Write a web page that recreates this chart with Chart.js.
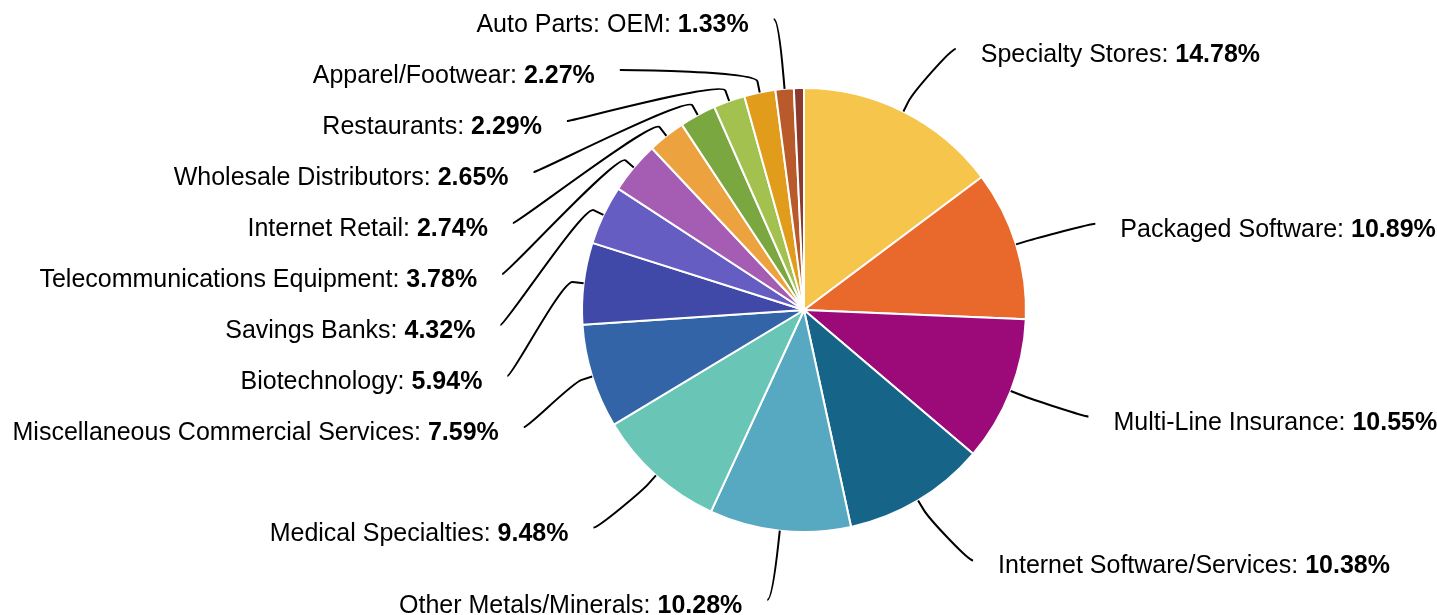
<!DOCTYPE html>
<html>
<head>
<meta charset="utf-8">
<script src="https://cdn.jsdelivr.net/npm/chart.js@4.4.0/dist/chart.umd.min.js"></script>
<style>
  html, body { margin: 0; padding: 0; background: #ffffff; }
  #wrap { width: 1437px; height: 615px; position: relative; }
</style>
</head>
<body>
<div id="wrap"><canvas id="c"></canvas></div>
<script>
// ---- data ----
const categories = [
  "Specialty Stores",
  "Packaged Software",
  "Multi-Line Insurance",
  "Internet Software/Services",
  "Other Metals/Minerals",
  "Medical Specialties",
  "Miscellaneous Commercial Services",
  "Biotechnology",
  "Savings Banks",
  "Telecommunications Equipment",
  "Internet Retail",
  "Wholesale Distributors",
  "Restaurants",
  "Apparel/Footwear",
  "Auto Parts: OEM",
  "Other"
];
const values = [14.78, 10.89, 10.55, 10.38, 10.28, 9.48, 7.59, 5.94, 4.32, 3.78, 2.74, 2.65, 2.29, 2.27, 1.33, 0.73];
const sliceColors = [
  "#F5C54C", "#E8692B", "#9C0A7A", "#166488", "#57A8C1", "#69C6B6",
  "#3464A8", "#4149A8", "#665DC3", "#A45DB3", "#EBA23F", "#7AA73F",
  "#A3C14F", "#E09C1A", "#B95A2B", "#8C3A2C"
];
const labelMinValue = 1; // slices below this carry no label

const FONT = '"Liberation Sans", Arial, sans-serif';

const labelPlugin = {
  id: 'pieLabels',
  afterDatasetsDraw(chart) {
    const meta = chart.getDatasetMeta(0);
    const arcs = meta.data;
    if (!arcs.length) return;
    const ctx = chart.ctx;
    const cx = arcs[0].x, cy = arcs[0].y, r = arcs[0].outerRadius;
    const Rn = r + 70;            // natural label radius (vertical placement)
    const Rx = r + 78;            // label radius used for horizontal placement
    const top = cy - r - 70;      // label band limits
    const bottom = cy + r + 68;
    const h = 51;                 // label slot height

    const items = [];
    arcs.forEach((arc, i) => {
      if (values[i] < labelMinValue) return;
      const a = (arc.startAngle + arc.endAngle) / 2;
      items.push({ i, a, left: Math.cos(a) < 0, natY: cy + Math.sin(a) * Rn, natYx: cy + Math.sin(a) * Rx });
    });

    [true, false].forEach(side => {
      const list = items.filter(o => o.left === side).sort((p, q) => p.natY - q.natY);
      list.forEach(o => { o.y = Math.min(Math.max(o.natY, top), bottom); });
      for (let k = 1; k < list.length; k++) list[k].y = Math.max(list[k].y, list[k - 1].y + h);
      for (let k = list.length - 1; k >= 0; k--) {
        const lim = k === list.length - 1 ? bottom : list[k + 1].y - h;
        list[k].y = Math.min(list[k].y, lim);
      }
      for (let k = 0; k < list.length; k++) {
        const lim = k === 0 ? top : list[k - 1].y + h;
        list[k].y = Math.max(list[k].y, lim);
      }
    });

    ctx.save();
    items.forEach(o => {
      const yForX = (o.y < top + 2 || o.y > bottom - 2) ? o.natYx : o.y;
      let dy = yForX - cy;
      dy = Math.max(-Rx, Math.min(Rx, dy));
      const dx = Math.sqrt(Rx * Rx - dy * dy) + 4;
      const ax = o.left ? cx - dx : cx + dx;
      const ay = o.y;
      const tx = cx + Math.cos(o.a) * r, ty = cy + Math.sin(o.a) * r;
      const bx = cx + Math.cos(o.a) * (r + 11), by = cy + Math.sin(o.a) * (r + 11);
      const c2x = 2 * bx - tx, c2y = 2 * by - ty;

      ctx.beginPath();
      ctx.moveTo(ax, ay);
      ctx.bezierCurveTo(ax + (o.left ? 5 : -5), ay, c2x, c2y, bx, by);
      ctx.lineTo(tx, ty);
      ctx.strokeStyle = '#000000';
      ctx.lineWidth = 2;
      ctx.stroke();

      const namePart = categories[o.i] + ': ';
      const valPart = values[o.i].toFixed(2) + '%';
      const base = ay + 13;
      ctx.fillStyle = '#000000';
      ctx.textBaseline = 'alphabetic';
      ctx.textAlign = 'left';
      ctx.font = '25px ' + FONT;
      const wName = ctx.measureText(namePart).width;
      ctx.font = 'bold 25px ' + FONT;
      const wVal = ctx.measureText(valPart).width;
      const x0 = o.left ? ax - 25 - wName - wVal : ax + 25;
      ctx.font = '25px ' + FONT;
      ctx.fillText(namePart, x0, base);
      ctx.font = 'bold 25px ' + FONT;
      ctx.fillText(valPart, x0 + wName, base);
    });
    ctx.restore();
  }
};

new Chart(document.getElementById('c'), {
  type: 'pie',
  data: {
    labels: categories,
    datasets: [{
      data: values,
      backgroundColor: sliceColors,
      borderColor: '#ffffff',
      borderWidth: 2,
      hoverOffset: 0
    }]
  },
  options: {
    responsive: true,
    maintainAspectRatio: false,
    animation: false,
    events: [],
    layout: { padding: { top: 87, bottom: 82, left: 171, right: 0 } },
    plugins: {
      legend: { display: false },
      tooltip: { enabled: false },
      title: { display: false }
    }
  },
  plugins: [labelPlugin]
});
</script>
</body>
</html>
